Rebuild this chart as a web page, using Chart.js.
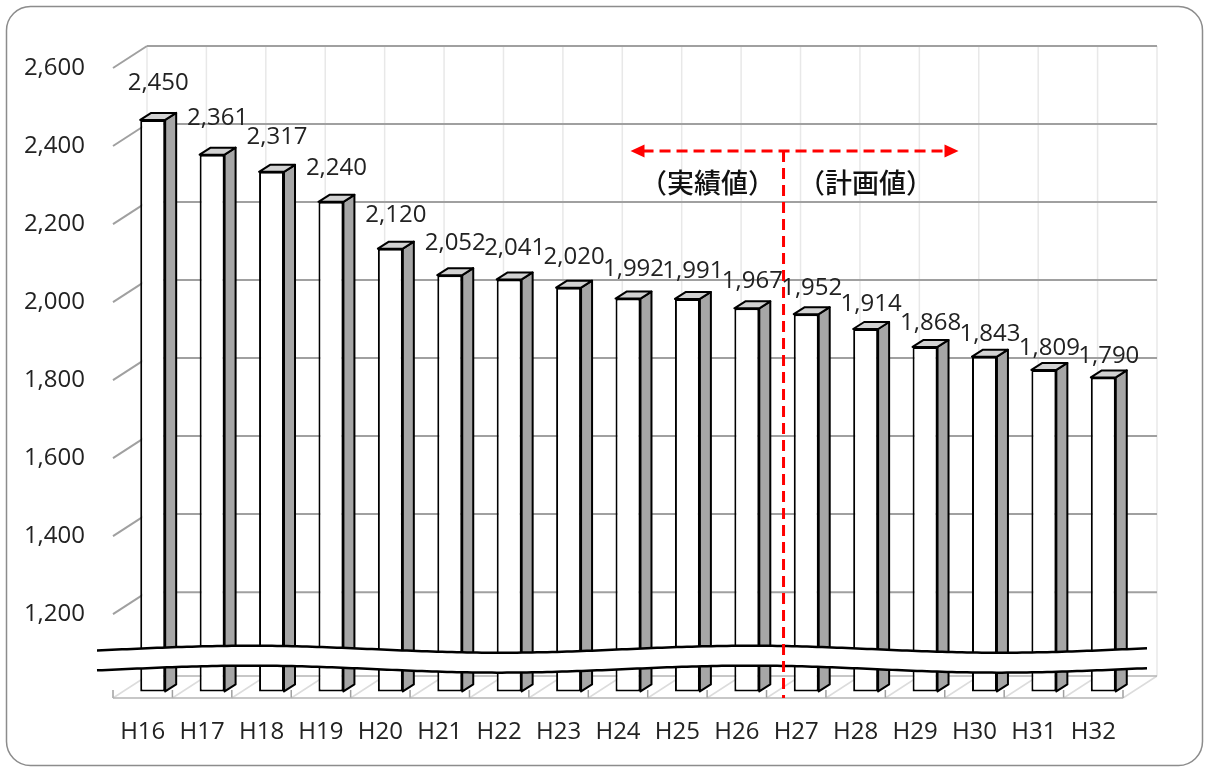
<!DOCTYPE html>
<html>
<head>
<meta charset="utf-8">
<script src="https://cdn.jsdelivr.net/npm/chart.js@4.4.1/dist/chart.umd.min.js"></script>
<style>
  html, body { margin: 0; padding: 0; background: #fff; }
  canvas { display: block; }
</style>
</head>
<body>
<canvas id="chart" width="1206" height="770"></canvas>
<script>
const years = ['H16', 'H17', 'H18', 'H19', 'H20', 'H21', 'H22', 'H23', 'H24',
  'H25', 'H26', 'H27', 'H28', 'H29', 'H30', 'H31', 'H32'];
const values = [2450, 2361, 2317, 2240, 2120, 2052, 2041, 2020, 1992,
  1991, 1967, 1952, 1914, 1868, 1843, 1809, 1790];
const yTicks = [1200, 1400, 1600, 1800, 2000, 2200, 2400, 2600];
const periodLabels = ['（実績値）', '（計画値）'];
const lastActualIndex = 10; // H26

const Y_MIN = 985, Y_MAX = 2600;
const FONT = '"Open Sans", "Noto Sans", sans-serif';
const WALL_DX = 34, WALL_DY = -22;   // depth of the 3d box
const BAR_DX = 10, BAR_DY = -6.6;    // bars sit a bit inside the box
const SIDE_DX = 11, SIDE_DY = -7;    // depth of a single bar

function line(ctx, x1, y1, x2, y2) {
  ctx.beginPath();
  ctx.moveTo(x1, y1);
  ctx.lineTo(x2, y2);
  ctx.stroke();
}

function wave(x, base) {
  return base + 3.5 * Math.cos(2 * Math.PI * (x - 500) / 500);
}

const pseudo3d = {
  id: 'pseudo3d',
  beforeDatasetsDraw(chart) {
    const {ctx, chartArea: a, scales: {y}} = chart;
    const step = (a.right - a.left) / years.length;
    ctx.save();
    ctx.lineWidth = 1.5;

    // back wall + floor verticals
    for (let k = 0; k <= years.length; k++) {
      const fx = a.left + k * step;
      ctx.strokeStyle = '#e8e8e8';
      line(ctx, fx + WALL_DX, a.top + WALL_DY, fx + WALL_DX, a.bottom + WALL_DY);
      ctx.strokeStyle = '#dcdcdc';
      line(ctx, fx, a.bottom, fx + WALL_DX, a.bottom + WALL_DY);
      ctx.strokeStyle = '#a0a0a0';
      line(ctx, fx, a.bottom, fx, a.bottom - 8);
    }

    // horizontal grid on the back wall and left wall
    ctx.strokeStyle = '#a0a0a0';
    ctx.lineWidth = 2;
    yTicks.forEach(v => {
      const py = y.getPixelForValue(v);
      line(ctx, a.left, py, a.left + WALL_DX, py + WALL_DY);
      line(ctx, a.left + WALL_DX, py + WALL_DY, a.right + WALL_DX, py + WALL_DY);
    });

    // floor
    ctx.strokeStyle = '#b4b4b4';
    ctx.lineWidth = 1.5;
    line(ctx, a.left, a.bottom, a.right, a.bottom);
    line(ctx, a.left + WALL_DX, a.bottom + WALL_DY, a.right + WALL_DX, a.bottom + WALL_DY);
    ctx.restore();

    ctx.save();
    ctx.translate(BAR_DX, BAR_DY);
  },
  afterDatasetsDraw(chart) {
    const {ctx, chartArea: a, scales: {x, y}} = chart;
    const bars = chart.getDatasetMeta(0).data;

    ctx.lineWidth = 2;
    ctx.strokeStyle = '#000';
    ctx.lineJoin = 'round';
    bars.forEach(bar => {
      const {x: bx, y: by, base, width} = bar.getProps(['x', 'y', 'base', 'width'], true);
      const l = bx - width / 2, r = bx + width / 2;
      ctx.beginPath();
      ctx.moveTo(r, by);
      ctx.lineTo(r + SIDE_DX, by + SIDE_DY);
      ctx.lineTo(r + SIDE_DX, base + SIDE_DY);
      ctx.lineTo(r, base);
      ctx.closePath();
      ctx.fillStyle = '#a6a6a6';
      ctx.fill();
      ctx.stroke();

      ctx.beginPath();
      ctx.moveTo(l, by);
      ctx.lineTo(l + SIDE_DX, by + SIDE_DY);
      ctx.lineTo(r + SIDE_DX, by + SIDE_DY);
      ctx.lineTo(r, by);
      ctx.closePath();
      ctx.fillStyle = '#d2d2d2';
      ctx.fill();
      ctx.stroke();
    });
    ctx.restore();

    // axis break
    const up = y.getPixelForValue(1110), low = y.getPixelForValue(1059);
    const x0 = 97, x1 = 1150;
    ctx.save();
    ctx.beginPath();
    for (let px = x0; px <= x1; px += 5) ctx.lineTo(px, wave(px, up));
    for (let px = x1; px >= x0; px -= 5) ctx.lineTo(px, wave(px, low));
    ctx.closePath();
    ctx.fillStyle = '#fff';
    ctx.fill();
    ctx.strokeStyle = '#000';
    ctx.lineWidth = 2.5;
    [up, low].forEach(b => {
      ctx.beginPath();
      for (let px = x0; px <= x1; px += 5) ctx.lineTo(px, wave(px, b));
      ctx.stroke();
    });
    ctx.restore();

    // split between actual and planned values
    const splitX = (x.getPixelForValue(lastActualIndex) + x.getPixelForValue(lastActualIndex + 1)) / 2 + 17;
    const arrowY = a.top + 83;
    const ax0 = splitX - 153, ax1 = splitX + 175;
    ctx.save();
    ctx.strokeStyle = ctx.fillStyle = '#ff0000';
    ctx.lineWidth = 3;
    ctx.setLineDash([11, 6]);
    line(ctx, splitX, arrowY, splitX, a.bottom);
    line(ctx, ax0 + 12, arrowY, ax1 - 12, arrowY);
    ctx.setLineDash([]);
    [[ax0, 1], [ax1, -1]].forEach(([tip, dir]) => {
      ctx.beginPath();
      ctx.moveTo(tip, arrowY);
      ctx.lineTo(tip + dir * 14, arrowY - 6.5);
      ctx.lineTo(tip + dir * 14, arrowY + 6.5);
      ctx.closePath();
      ctx.fill();
    });
    ctx.fillStyle = '#111';
    ctx.font = '500 27px "Noto Sans CJK JP", sans-serif';
    ctx.textAlign = 'center';
    ctx.textBaseline = 'middle';
    ctx.fillText(periodLabels[0], splitX - 76, arrowY + 32);
    ctx.fillText(periodLabels[1], splitX + 82, arrowY + 32);
    ctx.restore();

    // value labels
    ctx.save();
    ctx.fillStyle = '#222';
    ctx.font = '400 24px ' + FONT;
    ctx.textAlign = 'center';
    ctx.textBaseline = 'middle';
    bars.forEach((bar, i) => {
      const cx = bar.x + BAR_DX + SIDE_DX / 2;
      const top = bar.y + BAR_DY + SIDE_DY;
      ctx.fillText(values[i].toLocaleString('en-US'), cx, top - (30 - i));
    });
    ctx.restore();
  },
  afterDraw(chart) {
    const ctx = chart.ctx;
    ctx.save();
    ctx.strokeStyle = '#8c8c8c';
    ctx.lineWidth = 1.5;
    ctx.beginPath();
    ctx.roundRect(6.5, 6.5, 1196, 759, 24);
    ctx.stroke();
    ctx.restore();
  }
};

new Chart(document.getElementById('chart').getContext('2d'), {
  type: 'bar',
  data: {
    labels: years,
    datasets: [{
      data: values,
      base: Y_MIN,
      backgroundColor: '#fff',
      borderColor: '#000',
      borderWidth: 2,
      borderSkipped: false,
      barPercentage: 0.42,
      categoryPercentage: 1,
      clip: false
    }]
  },
  options: {
    responsive: false,
    animation: false,
    devicePixelRatio: 1,
    layout: {
      padding: {top: 68, right: 83, bottom: 0, left: 0}
    },
    scales: {
      x: {
        grid: {display: false, drawTicks: false},
        border: {display: false},
        ticks: {
          padding: 20,
          color: '#222',
          font: {family: FONT, size: 24, weight: '400'}
        },
        afterFit: s => { s.height = 72; }
      },
      y: {
        min: Y_MIN,
        max: Y_MAX,
        grid: {display: false, drawTicks: false},
        border: {display: false},
        afterBuildTicks: s => { s.ticks = yTicks.map(v => ({value: v})); },
        afterFit: s => { s.width = 113; },
        ticks: {
          padding: 28,
          color: '#222',
          font: {family: FONT, size: 24, weight: '400'},
          callback: v => v.toLocaleString('en-US')
        }
      }
    },
    plugins: {
      legend: {display: false},
      tooltip: {enabled: false}
    }
  },
  plugins: [pseudo3d]
});
</script>
</body>
</html>
